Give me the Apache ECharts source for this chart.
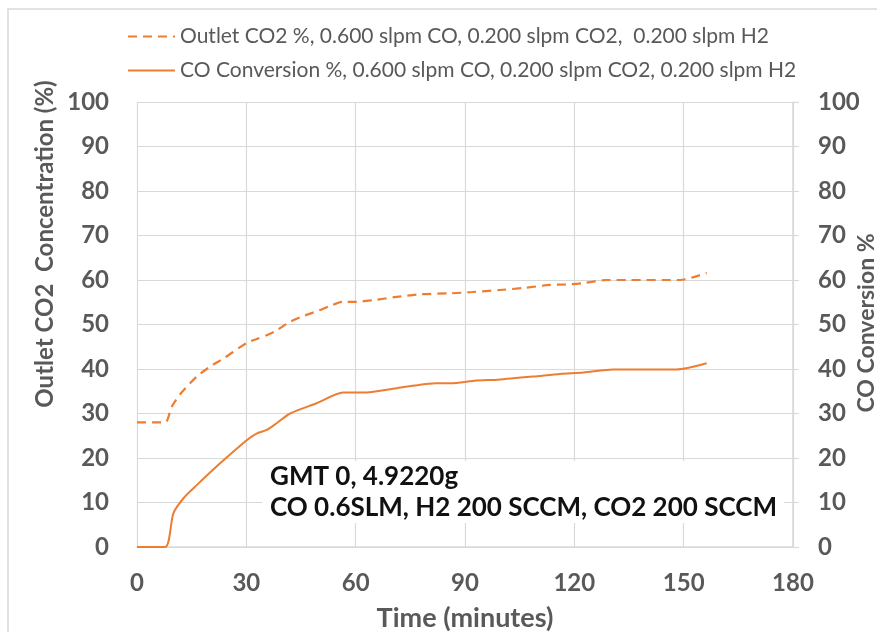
<!DOCTYPE html>
<html>
<head>
<meta charset="utf-8">
<script src="https://cdn.jsdelivr.net/npm/echarts@6/dist/echarts.min.js"></script>
<style>
html,body{margin:0;padding:0;background:#fff;}
#c{width:877px;height:632px;}
</style>
</head>
<body>
<div id="c"></div>
<script>
const seriesNames = [
  'Outlet CO2 %, 0.600 slpm CO, 0.200 slpm CO2,  0.200 slpm H2',
  'CO Conversion %, 0.600 slpm CO, 0.200 slpm CO2, 0.200 slpm H2'
];
const xTicks = [0, 30, 60, 90, 120, 150, 180];
const yTicks = [0, 10, 20, 30, 40, 50, 60, 70, 80, 90, 100];

const co2Time = [0, 7.7, 9.5, 12, 16.4, 20, 24, 30, 33, 35.6, 38, 42, 46, 50, 53, 56.6, 60.3, 65, 71.3, 78, 85.9, 92, 99.6, 106, 113.3, 118, 122.5, 128.9, 135, 149, 156.3];
const co2Value = [28, 28, 31.5, 34.5, 38.3, 40.5, 42.5, 45.8, 46.8, 47.6, 48.5, 50.6, 52, 53.2, 54.2, 55.1, 55.1, 55.5, 56.2, 56.8, 57, 57.3, 57.75, 58.2, 58.9, 59, 59.3, 60, 60, 60, 61.6];

const convTime = [0, 7.7, 10, 12.7, 16.4, 22.8, 30.1, 32.8, 35.6, 38.3, 42, 49.3, 56.6, 62, 71.3, 82.2, 85.9, 93.1, 99, 108.8, 116.1, 122.5, 130.7, 148, 156.3];
const convValue = [0, 0, 7.6, 10.9, 13.9, 18.8, 24, 25.5, 26.3, 27.8, 30, 32.3, 34.7, 34.7, 35.7, 36.8, 36.8, 37.4, 37.6, 38.3, 38.9, 39.2, 39.9, 39.9, 41.3];

const annotationLines = ['GMT 0, 4.9220g', 'CO 0.6SLM, H2 200 SCCM, CO2 200 SCCM'];
const leftAxisTitle = 'Outlet CO2  Concentration (%)';
const rightAxisTitle = 'CO Conversion %';
const xAxisTitle = 'Time (minutes)';

const orange = '#ED7D31';
const grey = '#595959';
const gridGrey = '#d9d9d9';
const FONT = 'Lato, "Open Sans", sans-serif';

const zip = (a, b) => a.map((t, i) => [t, b[i]]);

const chart = echarts.init(document.getElementById('c'), null, {renderer: 'canvas'});

const yAxisBase = {
  type: 'value', min: 0, max: 100, interval: 10,
  axisLabel: {color: grey, fontFamily: FONT, fontWeight: 'bold', fontSize: 24, margin: 28},
  axisTick: {show: false},
  axisLine: {show: false},
  splitLine: {show: false}
};

chart.setOption({
  backgroundColor: '#fff',
  animation: false,
  grid: {left: 137, right: 84, top: 102, bottom: 85, containLabel: false, outerBoundsMode: 'none'},
  legend: {
    orient: 'vertical', left: 122, top: 21,
    itemWidth: 47, itemHeight: 14, itemGap: 13, textGap: 6,
    itemStyle: {opacity: 0},
    textStyle: {color: grey, fontFamily: FONT, fontSize: 21},
    data: seriesNames
  },
  xAxis: {
    type: 'value', min: 0, max: 180, interval: 30,
    axisLabel: {color: grey, fontFamily: FONT, fontWeight: 'bold', fontSize: 24, margin: 24,
      formatter: v => xTicks.includes(v) ? String(v) : ''},
    axisTick: {show: false},
    axisLine: {show: true, lineStyle: {color: gridGrey, width: 1.5}},
    splitLine: {show: true, lineStyle: {color: gridGrey, width: 1.2}},
    name: xAxisTitle, nameLocation: 'middle', nameGap: 58,
    nameTextStyle: {color: grey, fontFamily: FONT, fontWeight: 'bold', fontSize: 27}
  },
  yAxis: [
    Object.assign({}, yAxisBase, {
      position: 'left',
      splitLine: {show: true, lineStyle: {color: gridGrey, width: 1.2}},
      axisLabel: Object.assign({}, yAxisBase.axisLabel, {formatter: v => yTicks.includes(v) ? String(v) : ''})
    }),
    Object.assign({}, yAxisBase, {
      position: 'right',
      axisLine: {show: true, lineStyle: {color: gridGrey, width: 1.5}},
      axisTick: {show: true, inside: false, length: 6, lineStyle: {color: gridGrey, width: 1.2}},
      axisLabel: Object.assign({}, yAxisBase.axisLabel, {margin: 25, formatter: v => yTicks.includes(v) ? String(v) : ''})
    })
  ],
  series: [
    {
      name: seriesNames[0], type: 'line', yAxisIndex: 0, showSymbol: false, symbol: 'none',
      smooth: 0.25,
      lineStyle: {color: orange, width: 2.2, type: [9, 6]},
      itemStyle: {color: orange},
      data: zip(co2Time, co2Value), z: 3
    },
    {
      name: seriesNames[1], type: 'line', yAxisIndex: 1, showSymbol: false, symbol: 'none',
      smooth: 0.25,
      lineStyle: {color: orange, width: 2},
      itemStyle: {color: orange},
      data: zip(convTime, convValue), z: 3
    }
  ],
  graphic: [
    {type: 'rect', silent: true, z: -10,
      shape: {x: 8, y: 9, width: 1000, height: 800},
      style: {fill: 'none', stroke: gridGrey, lineWidth: 1.5}},
    {type: 'text', silent: true,
      x: 45, y: 244, rotation: Math.PI / 2,
      style: {text: leftAxisTitle, fill: grey, font: 'bold 24px ' + FONT, align: 'center', verticalAlign: 'middle'}},
    {type: 'text', silent: true,
      x: 867, y: 323, rotation: Math.PI / 2,
      style: {text: rightAxisTitle, fill: grey, font: 'bold 23px ' + FONT, align: 'center', verticalAlign: 'middle'}},
    {type: 'rect', silent: true, z: 50,
      shape: {x: 262, y: 461, width: 522, height: 62},
      style: {fill: '#fff'}},
    {type: 'text', silent: true, z: 51, x: 270, y: 477,
      style: {text: annotationLines[0], fill: '#111', font: 'bold 26px ' + FONT, verticalAlign: 'middle'}},
    {type: 'text', silent: true, z: 51, x: 270, y: 508,
      style: {text: annotationLines[1], fill: '#111', font: 'bold 26px ' + FONT, verticalAlign: 'middle'}}
  ]
});
</script>
</body>
</html>
